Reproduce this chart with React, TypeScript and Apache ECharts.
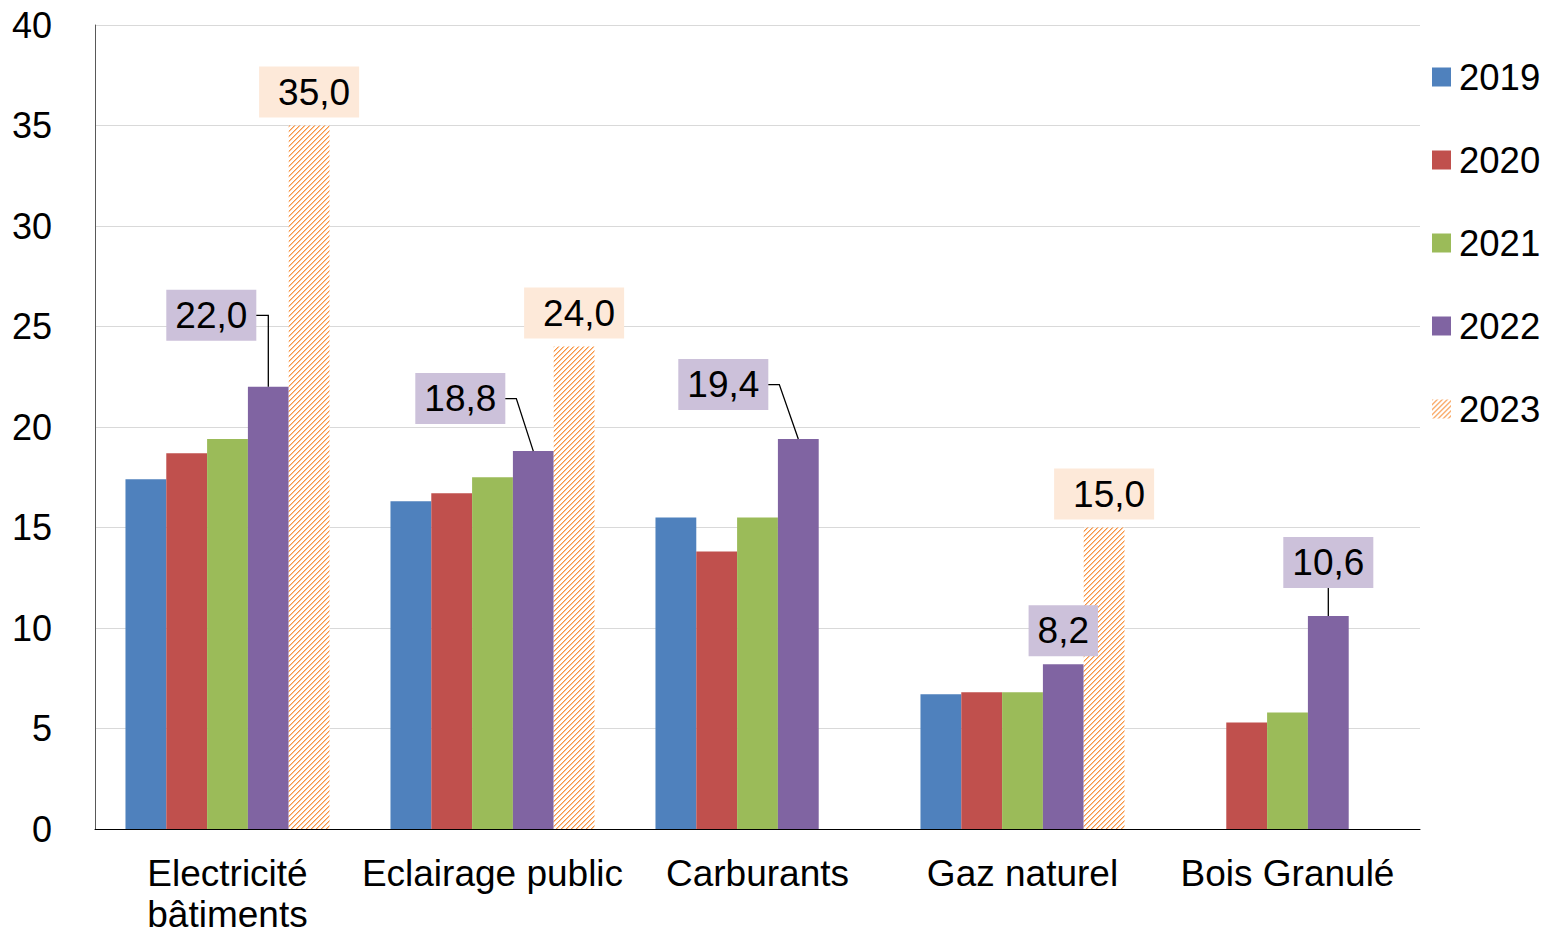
import React, { useEffect, useRef } from "react";
import * as echarts from "echarts";

const CATEGORIES = ["Electricité\nbâtiments", "Eclairage public", "Carburants", "Gaz naturel", "Bois Granulé"];
const YEARS = ["2019", "2020", "2021", "2022", "2023"];
const V2019 = [17.4, 16.3, 15.5, 6.7, null];
const V2020 = [18.7, 16.7, 13.8, 6.8, 5.3];
const V2021 = [19.4, 17.5, 15.5, 6.8, 5.8];
const V2022 = [22.0, 18.8, 19.4, 8.2, 10.6];
const V2023 = [35.0, 24.0, null, 15.0, null];
const Y_MIN = 0;
const Y_MAX = 40;
const Y_STEP = 5;

// label placement (styles, not data)
const LABEL_2022_OFFSET = [[-57, -38], [-73, -19], [-75, -21], [0, 0], [0, -20]];
const LEADER_2022 = ["elbow", "diag", "diag", "none", "down"];

const COLORS = ["#4F81BD", "#C0504D", "#9BBB59", "#8064A2"];
const ORANGE = "#F79646";
const FONT = "'Liberation Sans', Arial, sans-serif";
const LABEL_FS = 37;
const LABEL_LH = 41;
const LABEL_PAD_V = 5;
const LABEL_DIST = 8;
const CAT_GAP = 0.23;

const fmt = (v: number) => v.toFixed(1).replace(".", ",");

function makeHatch() {
  const s = 5;
  const c = document.createElement("canvas");
  c.width = s;
  c.height = s;
  const ctx = c.getContext("2d")!;
  ctx.fillStyle = "#ffffff";
  ctx.fillRect(0, 0, s, s);
  for (let i = 0; i < s; i++) {
    ctx.fillStyle = ORANGE;
    ctx.fillRect(i, s - 1 - i, 1, 1);
    ctx.fillStyle = "rgba(247,150,70,0.55)";
    ctx.fillRect(i, (s - i) % s, 1, 1);
  }
  return c;
}

function textWidth(t: string) {
  const c = document.createElement("canvas");
  const ctx = c.getContext("2d")!;
  ctx.font = `${LABEL_FS}px 'Liberation Sans', Arial, sans-serif`;
  return ctx.measureText(t).width;
}

export default function App() {
  const ref = useRef<HTMLDivElement>(null);
  useEffect(() => {
    if (!ref.current) return;
    const chart = echarts.init(ref.current, undefined, { renderer: "svg" });
    const hatch = makeHatch();
    const pattern: any = { image: hatch, repeat: "repeat", imageWidth: 5, imageHeight: 5 };

    const plain = [V2019, V2020, V2021].map((vals, i) => ({
      name: YEARS[i],
      type: "bar",
      data: vals.map((v) => (v == null ? "-" : v)),
      itemStyle: { color: COLORS[i] },
      barGap: "0%",
      barCategoryGap: `${CAT_GAP * 100}%`,
      emphasis: { disabled: true },
    }));

    const s2022 = {
      name: YEARS[3],
      type: "bar",
      barGap: "0%",
      barCategoryGap: `${CAT_GAP * 100}%`,
      itemStyle: { color: COLORS[3] },
      emphasis: { disabled: true },
      data: V2022.map((v, i) => ({
        value: v,
        label: {
          show: true,
          position: "top",
          distance: LABEL_DIST,
          offset: LABEL_2022_OFFSET[i],
          formatter: (p: any) => fmt(p.value),
          fontSize: LABEL_FS,
          fontFamily: FONT,
          color: "#000",
          lineHeight: LABEL_LH,
          backgroundColor: "#CCC1DA",
          padding: [LABEL_PAD_V, 9, LABEL_PAD_V, 9],
        },
      })),
    };

    const s2023 = {
      name: YEARS[4],
      type: "bar",
      barGap: "0%",
      barCategoryGap: `${CAT_GAP * 100}%`,
      itemStyle: { color: pattern },
      emphasis: { disabled: true },
      data: V2023.map((v) => (v == null ? "-" : v)),
      label: {
        show: true,
        position: "top",
        distance: LABEL_DIST,
        formatter: (p: any) => fmt(p.value),
        fontSize: LABEL_FS,
        fontFamily: FONT,
        color: "#000",
        lineHeight: LABEL_LH,
        backgroundColor: "#FDE9D9",
        padding: [LABEL_PAD_V, 9, LABEL_PAD_V, 19],
      },
    };

    const leaders = {
      name: "leaders",
      type: "custom",
      silent: true,
      z: 5,
      data: V2022.map((v, i) => [i, v]),
      renderItem: (params: any, api: any) => {
        const idx = params.dataIndex;
        const mode = LEADER_2022[idx];
        if (mode === "none") return { type: "group", children: [] };
        const p = api.coord([api.value(0), api.value(1)]);
        const band = api.size([1, 0])[0];
        const barW = (band * (1 - CAT_GAP)) / 5;
        const cx = p[0] + barW;
        const top = p[1];
        const [dx, dy] = LABEL_2022_OFFSET[idx];
        const boxH = LABEL_LH + 2 * LABEL_PAD_V;
        const boxBottom = top - LABEL_DIST + dy;
        const boxMid = boxBottom - boxH / 2;
        const boxW = textWidth(fmt(V2022[idx])) + 18;
        const boxRight = cx + dx + boxW / 2;
        let pts: number[][];
        if (mode === "elbow") pts = [[boxRight, boxMid], [cx, boxMid], [cx, top]];
        else if (mode === "diag") pts = [[boxRight, boxMid], [boxRight + 11, boxMid], [cx, top]];
        else pts = [[cx, boxBottom], [cx, top]];
        return {
          type: "polyline",
          shape: { points: pts },
          style: { stroke: "#000", lineWidth: 1.3, fill: null },
        };
      },
    };

    chart.setOption({
      animation: false,
      grid: { left: 95, right: 127, top: 25, bottom: 100, containLabel: false },
      legend: {
        data: YEARS,
        orient: "vertical",
        left: 1427,
        top: 52,
        itemWidth: 19,
        itemHeight: 19,
        itemGap: 43,
        icon: "rect",
        selectedMode: false,
        textStyle: { fontSize: 36.5, fontFamily: FONT, color: "#000", lineHeight: 40, padding: [0, 0, 0, 3] },
      },
      xAxis: {
        type: "category",
        data: CATEGORIES,
        axisLine: { show: true, lineStyle: { color: "#000", width: 1 } },
        axisTick: { show: false },
        axisLabel: {
          fontSize: 37,
          fontFamily: FONT,
          color: "#000",
          lineHeight: 41,
          margin: 24,
          interval: 0,
        },
      },
      yAxis: {
        type: "value",
        min: Y_MIN,
        max: Y_MAX,
        interval: Y_STEP,
        axisLine: { show: true, lineStyle: { color: "#595959", width: 1 } },
        axisTick: { show: false },
        splitLine: { lineStyle: { color: "#D9D9D9", width: 1 } },
        axisLabel: { fontSize: 36, fontFamily: FONT, color: "#000", margin: 43 },
      },
      series: [...plain, s2022, s2023, leaders],
    });
    return () => chart.dispose();
  }, []);
  return (
    <div
      ref={ref}
      style={{ position: "fixed", left: 0, top: 0, width: 1547, height: 935, background: "#fff" }}
    />
  );
}
